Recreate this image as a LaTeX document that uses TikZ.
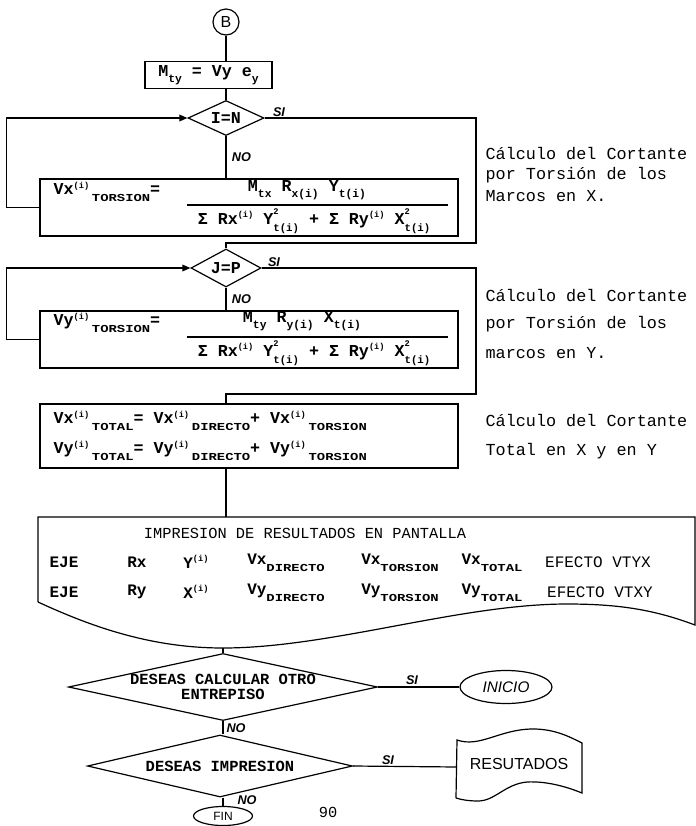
\documentclass[tikz,border=0pt]{standalone}
\usepackage{fontspec}
\setmainfont{Liberation Mono}
\newfontfamily\hand{Liberation Sans}
\newfontfamily\wide[FakeStretch=1.3]{Liberation Mono}
\usetikzlibrary{shapes.geometric,arrows.meta}
\newcommand\hi[1]{\raisebox{0.75ex}{\fontsize{6.5}{7}\selectfont #1}}
\newcommand\lo[1]{\raisebox{-0.8ex}{\wide\fontsize{8}{9}\selectfont\bfseries #1}}
\newcommand\ls[1]{\raisebox{-0.7ex}{\fontsize{8.5}{9}\selectfont\bfseries #1}}
\newcommand\hl[2]{\rlap{\raisebox{1.1ex}{\fontsize{6.5}{7}\selectfont #1}}\raisebox{-0.8ex}{\fontsize{8}{9}\selectfont #2}}
\begin{document}
\begin{tikzpicture}[x=0.75pt,y=-0.75pt,line width=0.9pt,
  proc/.style={draw,rectangle,inner sep=0pt},
  dec/.style={draw,diamond,inner sep=0pt},
  term/.style={draw,ellipse,inner sep=0pt},
  txt/.style={inner sep=0pt,font=\fontsize{12.5}{13}\selectfont\bfseries},
  row/.style={inner sep=0pt,font=\fontsize{12}{13}\selectfont\bfseries},
  note/.style={inner sep=0pt,anchor=west,font=\fontsize{12.6}{13}\selectfont},
  lbl/.style={inner sep=0pt,font=\hand\fontsize{9.5}{10}\selectfont\itshape\bfseries},
  arr/.style={-{Triangle[length=6pt,width=5pt]}}]
\fill[white] (0,0) rectangle (696,826);
\useasboundingbox (0,0) rectangle (696,826);

% --- top chain
\node[term,circle,minimum size=26*0.75pt] (B) at (226,22) {\hand\fontsize{12}{12}\selectfont B};
\node[proc,minimum width=127*0.75pt,minimum height=27*0.75pt] (mty) at (208.5,75) {};
\node[txt] (mtyt) at (mty) {M\ls{ty} = Vy e\ls{y}};
\draw (B.south) -- (B.south |- mty.north);

\node[dec,minimum width=76*0.75pt,minimum height=35*0.75pt] (IN) at (226,118) {};
\node[txt] (INt) at (IN) {I=N};
\draw (mty.south -| IN) -- (IN.north);

\node[proc,minimum width=418*0.75pt,minimum height=57*0.75pt] (vx) at (249,207.5) {};
\draw (IN.south) -- (IN.south |- vx.north) node[lbl,pos=0.5,right=4pt] (no1) {NO};
\draw[arr] (vx.west) -- ++(-33,0) |- (IN.west);
\node[txt,anchor=west] (vxl) at (53,192) {Vx\hi{(i)}\,\lo{TORSION}=};
\node[txt] (vxn) at (307,190) {M\ls{tx} R\ls{x(i)} Y\ls{t(i)}};
\draw (187,205) -- (448,205);
\node[txt] (vxd) at (314,221) {Σ Rx\hi{(i)} Y\hl{2}{t(i)} + Σ Ry\hi{(i)} X\hl{2}{t(i)}};

\node[dec,minimum width=70*0.75pt,minimum height=38*0.75pt] (JP) at (226,268) {};
\node[txt] (JPt) at (JP) {J=P};
\coordinate (r1) at (476,243);
\draw (IN.east) -| (r1) -- (r1 -| JP) -- (JP.north);
\node[lbl] (si1) at (279,112) {SI};

\node[proc,minimum width=418*0.75pt,minimum height=57*0.75pt] (vy) at (249,339.5) {};
\draw (JP.south) -- (JP.south |- vy.north) node[lbl,pos=0.5,right=4pt] (no2) {NO};
\draw[arr] (vy.west) -- ++(-33,0) |- (JP.west);
\node[txt,anchor=west] (vyl) at (53,323) {Vy\hi{(i)}\,\lo{TORSION}=};
\node[txt] (vyn) at (302,321.5) {M\ls{ty} R\ls{y(i)} X\ls{t(i)}};
\draw (187,337) -- (448,337);
\node[txt] (vyd) at (314,353) {Σ Rx\hi{(i)} Y\hl{2}{t(i)} + Σ Ry\hi{(i)} X\hl{2}{t(i)}};

\node[proc,minimum width=418*0.75pt,minimum height=64*0.75pt] (vxt) at (249,436) {};
\coordinate (r2) at (476,394);
\draw (JP.east) -| (r2) -- (r2 -| JP) -- (JP |- vxt.north);
\node[lbl] (si2) at (274,262) {SI};
\node[txt,anchor=west] (vxt1) at (53,421) {Vx\hi{(i)}\,\lo{TOTAL}= Vx\hi{(i)}\,\lo{DIRECTO}+ Vx\hi{(i)}\,\lo{TORSION}};
\node[txt,anchor=west] (vxt2) at (53,451) {Vy\hi{(i)}\,\lo{TOTAL}= Vy\hi{(i)}\,\lo{DIRECTO}+ Vy\hi{(i)}\,\lo{TORSION}};

% --- notes
\node[note] (n1) at (485,154) {Cálculo del Cortante};
\node[note] (n2) at (485,175) {por Torsión  de los};
\node[note] (n3) at (485,196) {Marcos en X.};
\node[note] (n4) at (485,296) {Cálculo del Cortante};
\node[note] (n5) at (485,324) {por Torsión  de los};
\node[note] (n6) at (485,353) {marcos en Y.};
\node[note] (n7) at (485,421) {Cálculo del Cortante};
\node[note] (n8) at (485,451) {Total en X  y en  Y};

% --- output document
\coordinate (impTop) at (226,517);
\coordinate (impDip) at (223,648);
\draw (38,602) -- (38,517) -- (695,517) -- (695,625)
  .. controls (655,610) and (620,604) .. (567,604)
  .. controls (460,604) and (330,648) .. (impDip)
  .. controls (150,648) and (90,626) .. (38,602);
\draw (vxt.south -| JP) -- (impTop);
\node[inner sep=0pt,font=\fontsize{11.5}{12}\selectfont] (impt) at (305,533) {IMPRESION DE RESULTADOS EN PANTALLA};
\node[row] (a1) at (64,562) {EJE};
\node[row] (a2) at (137,562) {Rx};
\node[row] (a3) at (196,562) {Y\hi{(i)}};
\node[row] (a4) at (286,563) {Vx\lo{DIRECTO}};
\node[row] (a5) at (400,563) {Vx\lo{TORSION}};
\node[row] (a6) at (492,563) {Vx\lo{TOTAL}};
\node[inner sep=0pt,font=\fontsize{12}{12}\selectfont] (a7) at (598,562) {EFECTO VTYX};
\node[row] (b1) at (64,592) {EJE};
\node[row] (b2) at (137,592) {Ry};
\node[row] (b3) at (196,592) {X\hi{(i)}};
\node[row] (b4) at (286,593) {Vy\lo{DIRECTO}};
\node[row] (b5) at (400,593) {Vy\lo{TORSION}};
\node[row] (b6) at (492,593) {Vy\lo{TOTAL}};
\node[inner sep=0pt,font=\fontsize{12}{12}\selectfont] (b7) at (600,592) {EFECTO VTXY};

% --- decisions at bottom
\node[dec,minimum width=309*0.75pt,minimum height=67*0.75pt] (d1) at (223,687) {};
\node[txt,align=center,font=\fontsize{11.6}{11.5}\selectfont\bfseries] (d1t) at (d1) {DESEAS CALCULAR OTRO\\ENTREPISO};
\draw (impDip) -- (d1.north);
\node[term,minimum width=92*0.75pt,minimum height=33*0.75pt] (ini) at (506,687) {\hand\itshape\fontsize{11.5}{11.5}\selectfont INICIO};
\draw (d1.east) -- (ini.west);
\node[lbl] (si3) at (412,680) {SI};

\node[dec,minimum width=265*0.75pt,minimum height=62*0.75pt] (d2) at (220,766) {};
\node[txt,font=\fontsize{11.6}{12}\selectfont\bfseries] (d2t) at (d2) {DESEAS IMPRESION};
\draw (d1.south) -- (d2.north -| d1.south);
\node[lbl] (no3) at (236,728) {NO};

\coordinate (resW) at (457,767);
\draw (456,798) -- (457,740)
  .. controls (480,748) and (500,729) .. (533,729)
  .. controls (555,729) and (570,737) .. (582,743)
  -- (582,793)
  .. controls (565,786) and (545,781) .. (527,782)
  .. controls (505,784) and (495,801) .. (478,801)
  .. controls (470,801) and (462,800) .. (456,798);
\node[inner sep=0pt,font=\hand\fontsize{12}{12}\selectfont] (res) at (519,764) {RESUTADOS};
\draw (d2.east) -- (resW);
\node[lbl] (si4) at (388,760) {SI};

\node[term,minimum width=59*0.75pt,minimum height=19*0.75pt] (fin) at (223,816) {\hand\fontsize{9}{9}\selectfont FIN};
\draw (d2.south -| fin) -- (fin.north);
\node[lbl] (no4) at (247,800) {NO};
\node[inner sep=0pt,font=\fontsize{11.5}{12}\selectfont] (pg) at (328,812) {90};
\end{tikzpicture}
\end{document}
